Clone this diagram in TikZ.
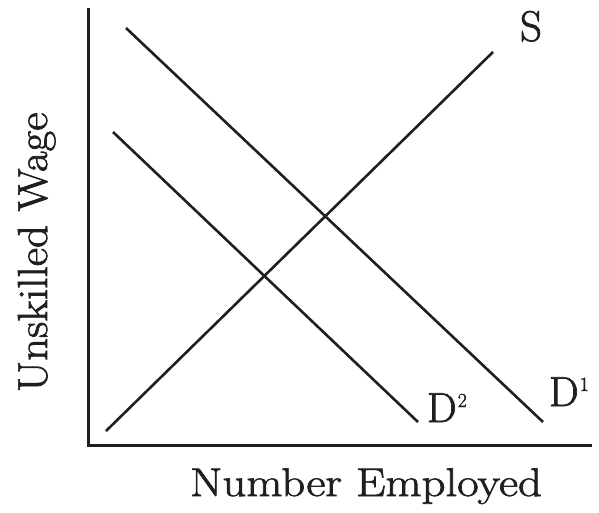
\documentclass[tikz,border=0pt]{standalone}
\usepackage{fontspec}
\usepackage{graphicx}
\newfontfamily\heavy{Latin Modern Roman}[FakeBold=1.6]
\newcommand\mysup[1]{\raisebox{15pt}{\fontsize{20}{20}\selectfont #1}}
\begin{document}
\begin{tikzpicture}[x=1pt,y=-1pt,
  axis/.style={line width=3pt,color=black!88},
  curve/.style={line width=2.6pt,color=black!88},
  lbl/.style={inner sep=0pt,outer sep=0pt,text=black!88,font=\heavy}]
\useasboundingbox (0,0) rectangle (599,512);
% axes
\coordinate (otop) at (88,8);
\coordinate (xend) at (592,445);
\draw[axis,line cap=butt] (otop) -- (88,445) -- (xend);
% supply
\coordinate (s1) at (106,431);
\coordinate (s2) at (493,52);
\draw[curve] (s1) -- (s2);
% demand 1
\coordinate (da1) at (126,28);
\coordinate (da2) at (543,422);
\draw[curve] (da1) -- (da2);
% demand 2
\coordinate (db1) at (113,132);
\coordinate (db2) at (418,422);
\draw[curve] (db1) -- (db2);
% labels
\node[lbl,anchor=base] (S) at (531,41) {\fontsize{43}{43}\selectfont S};
\node[lbl,anchor=base west] (D2) at (427,422) {\fontsize{42}{42}\selectfont D\kern1pt\mysup{2}};
\node[lbl,anchor=base west] (D1) at (549,406) {\fontsize{42}{42}\selectfont D\kern1pt\mysup{1}};
\node[lbl,anchor=base west] (xl) at (190,496) {\scalebox{1.17}[1]{\fontsize{40}{40}\selectfont Number Employed}};
\node[lbl,anchor=base west,rotate=90] (yl) at (47,392) {\scalebox{1.07}[1]{\fontsize{42}{42}\selectfont Unskilled Wage}};
\end{tikzpicture}
\end{document}
